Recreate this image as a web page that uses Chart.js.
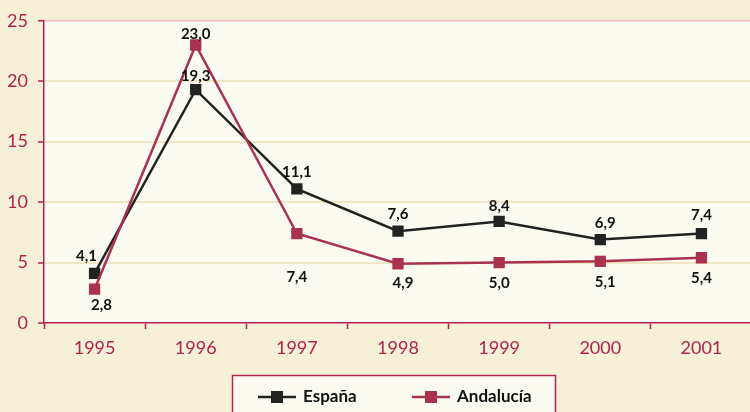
<!DOCTYPE html>
<html>
<head>
<meta charset="utf-8">
<script src="https://cdn.jsdelivr.net/npm/chart.js@4/dist/chart.umd.min.js"></script>
<style>
html,body{margin:0;padding:0;background:#f5f0d6;overflow:hidden;width:750px;height:412px;}
canvas{display:block;}
</style>
</head>
<body>
<canvas id="c" width="760" height="412"></canvas>
<script>
const categories = ['1995','1996','1997','1998','1999','2000','2001'];
const espana = [4.1, 19.3, 11.1, 7.6, 8.4, 6.9, 7.4];
const andalucia = [2.8, 23.0, 7.4, 4.9, 5.0, 5.1, 5.4];
const seriesNames = ['España', 'Andalucía'];
const yTicks = [0, 5, 10, 15, 20, 25];

const CRIMSON = '#b0234f';
const BLACK = '#222222';
const ANDA = '#a8324f';
const PLOT_BG = '#fcfbf2';
const GRID = '#efe7c2';

// label offsets (dx, dy) relative to each point, per series
const labelOffsets = [
  [[-8,-17],[0,-14],[0,-17],[0,-17],[0,-15],[5,-16],[0,-18]],
  [[7,16],[0,-11],[0,44],[5,19],[0,21],[5,21],[0,20]]
];

const fmt = v => v.toFixed(1).replace('.', ',');

const bgPlugin = {
  id: 'bg',
  beforeDraw(chart) {
    const {ctx, chartArea: a} = chart;
    ctx.save();
    ctx.fillStyle = PLOT_BG;
    ctx.fillRect(a.left, a.top, a.right - a.left, a.bottom - a.top);
    ctx.restore();
  }
};

const labelPlugin = {
  id: 'vlabels',
  afterDatasetsDraw(chart) {
    const ctx = chart.ctx;
    ctx.save();
    ctx.font = 'bold 15px Lato, "Open Sans", sans-serif';
    ctx.fillStyle = '#111';
    ctx.textAlign = 'center';
    ctx.textBaseline = 'middle';
    chart.data.datasets.forEach((ds, di) => {
      const meta = chart.getDatasetMeta(di);
      meta.data.forEach((pt, i) => {
        const off = labelOffsets[di][i];
        ctx.fillText(fmt(ds.data[i]), pt.x + off[0], pt.y + off[1]);
      });
    });
    ctx.restore();
  }
};

const legendPlugin = {
  id: 'customLegend',
  afterDraw(chart) {
    const ctx = chart.ctx;
    ctx.save();
    ctx.fillStyle = PLOT_BG;
    ctx.strokeStyle = CRIMSON;
    ctx.lineWidth = 1.5;
    ctx.fillRect(232.5, 375.5, 323, 50);
    ctx.strokeRect(232.5, 375.5, 323, 50);
    const items = [
      {x: 258, color: BLACK, text: chart.data.datasets[0].label},
      {x: 412, color: ANDA, text: chart.data.datasets[1].label}
    ];
    const y = 397;
    items.forEach(it => {
      ctx.strokeStyle = it.color;
      ctx.lineWidth = 2.5;
      ctx.beginPath();
      ctx.moveTo(it.x, y);
      ctx.lineTo(it.x + 38, y);
      ctx.stroke();
      ctx.fillStyle = it.color;
      ctx.fillRect(it.x + 19 - 6, y - 6, 12, 12);
      ctx.fillStyle = '#111';
      ctx.font = 'bold 17px Lato, "Open Sans", sans-serif';
      ctx.textAlign = 'left';
      ctx.textBaseline = 'middle';
      ctx.fillText(it.text, it.x + 45, y);
    });
    ctx.restore();
  }
};

new Chart(document.getElementById('c'), {
  type: 'line',
  data: {
    labels: categories,
    datasets: [
      {
        label: seriesNames[0], data: espana, order: 1,
        borderColor: BLACK, backgroundColor: BLACK, borderWidth: 2.5,
        pointStyle: 'rect', pointRadius: 8, pointHoverRadius: 8,
        pointBackgroundColor: BLACK, pointBorderWidth: 0, tension: 0
      },
      {
        label: seriesNames[1], data: andalucia, order: 0,
        borderColor: ANDA, backgroundColor: ANDA, borderWidth: 2.5,
        pointStyle: 'rect', pointRadius: 8, pointHoverRadius: 8,
        pointBackgroundColor: ANDA, pointBorderWidth: 0, tension: 0
      }
    ]
  },
  options: {
    responsive: false,
    animation: false,
    devicePixelRatio: 1,
    layout: {padding: {top: 19, right: 2, left: 0, bottom: 0}},
    plugins: {legend: {display: false}, tooltip: {enabled: false}},
    scales: {
      x: {
        offset: true,
        grid: {offset: true, drawOnChartArea: false, drawTicks: true, tickLength: 6, tickColor: CRIMSON, tickWidth: 1.5},
        border: {color: CRIMSON, width: 1.5},
        ticks: {color: CRIMSON, font: {family: 'Lato, "Open Sans", sans-serif', size: 18}, padding: 8},
        afterFit(s) { s.height = 412 - 323; }
      },
      y: {
        min: 0, max: 25,
        afterBuildTicks(s) { s.ticks = yTicks.map(v => ({value: v})); },
        grid: {
          color: ctx => (ctx.tick && ctx.tick.value === 25) ? '#e9b9c4' : (ctx.tick && ctx.tick.value === 0 ? 'rgba(0,0,0,0)' : GRID),
          lineWidth: ctx => (ctx.tick && ctx.tick.value === 25) ? 1.5 : 2,
          tickLength: 6, tickColor: CRIMSON, tickWidth: 1.5
        },
        border: {color: CRIMSON, width: 1.5},
        ticks: {color: CRIMSON, font: {family: 'Lato, "Open Sans", sans-serif', size: 18}, padding: 10},
        afterFit(s) { s.width = 44; }
      }
    }
  },
  plugins: [bgPlugin, labelPlugin, legendPlugin]
});
</script>
</body>
</html>
